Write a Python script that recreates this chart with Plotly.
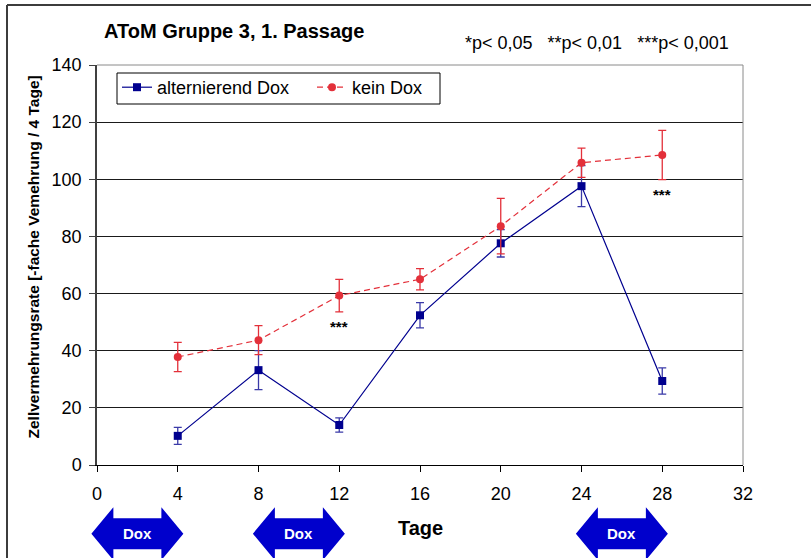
import plotly.graph_objects as go

# Measurement days
tage = [4, 8, 12, 16, 20, 24, 28]

# Cell proliferation rate (-fold increase per 4 days), mean and SD
alternierend = [10.2, 33.2, 14.0, 52.4, 77.6, 97.6, 29.4]
alternierend_sd = [3.0, 6.8, 2.5, 4.4, 4.8, 7.2, 4.6]
kein_dox = [37.8, 43.7, 59.3, 65.0, 83.6, 105.8, 108.5]
kein_dox_sd = [5.1, 5.1, 5.7, 3.7, 9.7, 5.1, 8.6]

# Significance markers
sig_x = [12, 28]
sig_text = ["***", "***"]

# Dox treatment periods (start, end)
dox_perioden = [(0, 4), (8, 12), (24, 28)]

x_ticks = [0, 4, 8, 12, 16, 20, 24, 28, 32]
y_ticks = [0, 20, 40, 60, 80, 100, 120, 140]

X_MAX = 32
Y_MAX = 140

W, H = 811, 558
M_L, M_R, M_T, M_B = 97, 68, 65, 93
PW = W - M_L - M_R
PH = H - M_T - M_B

BLUE = "#00008f"
BLUE_ERR = "#3a3aa8"
RED = "#e3303a"
ARROW = "#0000cc"
FONT = "Liberation Sans, Arial, sans-serif"


def px_x(px):
    return (px - M_L) / PW


def px_y(py):
    return (H - M_B - py) / PH


fig = go.Figure()

fig.add_trace(go.Scatter(
    x=tage, y=alternierend, name="alternierend Dox",
    mode="lines+markers",
    line=dict(color=BLUE, width=1.2),
    marker=dict(symbol="square", size=8, color=BLUE),
    error_y=dict(type="data", array=alternierend_sd, visible=True,
                 color=BLUE_ERR, thickness=1.3, width=4),
))

fig.add_trace(go.Scatter(
    x=tage, y=kein_dox, name="kein Dox",
    mode="lines+markers",
    line=dict(color=RED, width=1.2, dash="6px,4px"),
    marker=dict(symbol="circle", size=8, color=RED),
    error_y=dict(type="data", array=kein_dox_sd, visible=True,
                 color=RED, thickness=1.3, width=4),
))

# "***" below the red markers
for xv, txt in zip(sig_x, sig_text):
    yv = kein_dox[tage.index(xv)] - kein_dox_sd[tage.index(xv)]
    fig.add_annotation(x=xv, y=yv, text=f"<b>{txt}</b>", showarrow=False,
                       yanchor="top", yshift=-4,
                       font=dict(family=FONT, size=15, color="black"))

shapes = []

# Legend frame
shapes.append(dict(type="rect", xref="paper", yref="paper",
                   x0=px_x(117), x1=px_x(440), y0=px_y(104), y1=px_y(73),
                   fillcolor="white", line=dict(color="black", width=1), layer="below"))

# Double-headed arrows marking the Dox periods below the axis
half_w = 46.0 / PW          # half length of arrow (paper units)
head = 22.0 / PW            # head length
yc = -68.7 / PH             # arrow centre
hh = 26.5 / PH              # half height of the head
sh = 15.5 / PH              # half height of the shaft
for a, b in dox_perioden:
    cx = (a + b) / 2 / X_MAX
    l, r = cx - half_w, cx + half_w
    path = (f"M {l} {yc} L {l+head} {yc+hh} L {l+head} {yc+sh} "
            f"L {r-head} {yc+sh} L {r-head} {yc+hh} L {r} {yc} "
            f"L {r-head} {yc-hh} L {r-head} {yc-sh} L {l+head} {yc-sh} "
            f"L {l+head} {yc-hh} Z")
    shapes.append(dict(type="path", path=path, xref="paper", yref="paper",
                       fillcolor=ARROW, line=dict(width=0), layer="above"))
    fig.add_annotation(x=cx, y=yc, xref="paper", yref="paper",
                       xanchor="center", yanchor="middle",
                       text="<b>Dox</b>", showarrow=False,
                       font=dict(family=FONT, size=15, color="white"))

# Gray top and right border of the plot area
shapes.append(dict(type="line", xref="paper", yref="paper", x0=0, x1=1, y0=1, y1=1,
                   line=dict(color="#8a8a8a", width=1)))
shapes.append(dict(type="line", xref="paper", yref="paper", x0=1, x1=1, y0=0, y1=1,
                   line=dict(color="#8a8a8a", width=1)))

# Outer chart frame (top and left edges)
fx = px_x(7)
fy = px_y(5)
shapes.append(dict(type="line", xref="paper", yref="paper", x0=fx, x1=2, y0=fy, y1=fy,
                   line=dict(color="#3c3c3c", width=2)))
shapes.append(dict(type="line", xref="paper", yref="paper", x0=fx, x1=fx, y0=fy, y1=-1,
                   line=dict(color="#3c3c3c", width=2)))

# Title, significance legend, axis titles
fig.add_annotation(x=px_x(102), y=px_y(31), xref="paper", yref="paper",
                   text="<b>AToM Gruppe 3, 1. Passage</b>", showarrow=False,
                   xanchor="left", yanchor="middle",
                   font=dict(family=FONT, size=20, color="black"))
fig.add_annotation(x=px_x(731), y=px_y(43), xref="paper", yref="paper",
                   text="*p< 0,05   **p< 0,01   ***p< 0,001", showarrow=False,
                   xanchor="right", yanchor="middle",
                   font=dict(family=FONT, size=18, color="black"))
fig.add_annotation(x=px_x(33), y=px_y(257.5), xref="paper", yref="paper",
                   xanchor="center", yanchor="middle",
                   text="<b>Zellvermehrungsrate [-fache Vemehrung / 4 Tage]</b>",
                   showarrow=False, textangle=-90,
                   font=dict(family=FONT, size=15.5, color="black"))
fig.add_annotation(x=16 / X_MAX, y=-63 / PH, xref="paper", yref="paper",
                   xanchor="center", yanchor="middle",
                   text="<b>Tage</b>", showarrow=False,
                   font=dict(family=FONT, size=20, color="black"))

fig.update_layout(
    width=W, height=H,
    margin=dict(l=M_L, r=M_R, t=M_T, b=M_B, pad=0),
    paper_bgcolor="white", plot_bgcolor="white",
    font=dict(family=FONT, size=17, color="black"),
    shapes=shapes,
    showlegend=True,
    legend=dict(orientation="h", x=px_x(117), y=px_y(69),
                xanchor="left", yanchor="top",
                bgcolor="rgba(0,0,0,0)", borderwidth=0,
                font=dict(family=FONT, size=18, color="black"),
                entrywidth=150, entrywidthmode="pixels",
                tracegroupgap=0, itemwidth=30),
    xaxis=dict(range=[0, X_MAX], tickvals=x_ticks, ticktext=[str(v) for v in x_ticks],
               showgrid=False, zeroline=False,
               showline=True, linecolor="black", linewidth=1,
               ticks="outside", ticklen=6, tickcolor="black", tickwidth=1,
               ticklabelstandoff=6,
               tickfont=dict(family=FONT, size=18)),
    yaxis=dict(range=[0, Y_MAX], tickvals=y_ticks, ticktext=[str(v) for v in y_ticks],
               showgrid=True, gridcolor="#1a1a1a", gridwidth=1, zeroline=False,
               showline=True, linecolor="#404040", linewidth=1.5,
               ticks="outside", ticklen=6, tickcolor="#404040", tickwidth=1,
               ticklabelstandoff=4,
               tickfont=dict(family=FONT, size=18)),
)

fig.write_html("out.html")
